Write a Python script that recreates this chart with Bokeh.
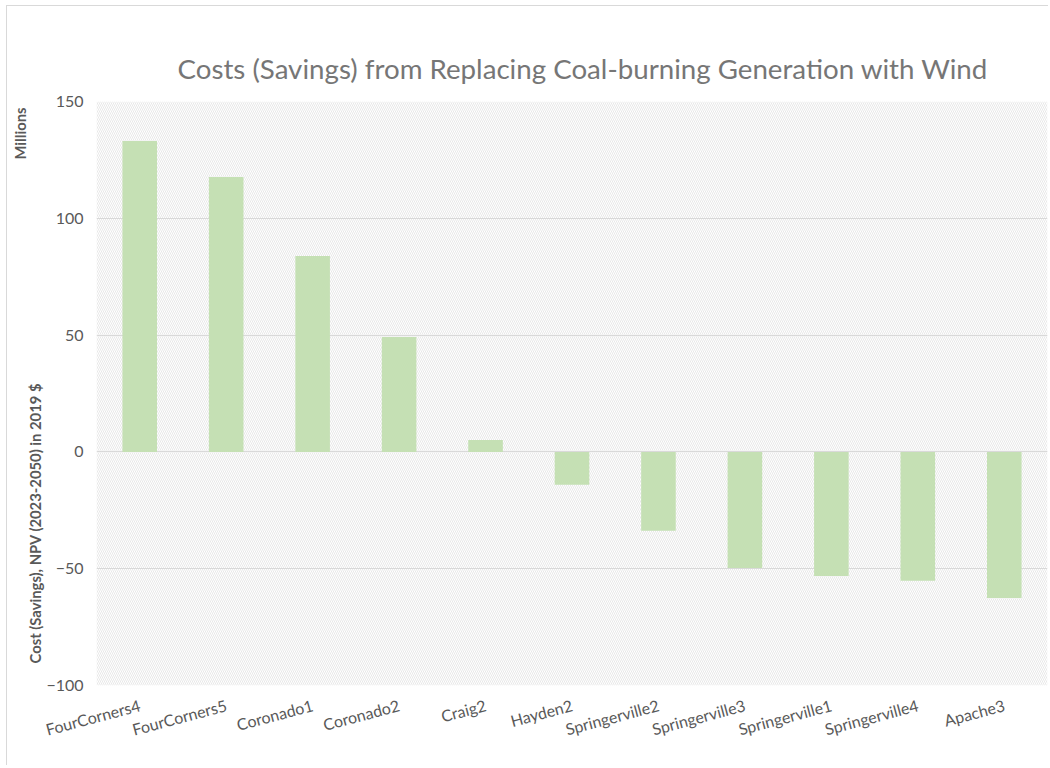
import math
from bokeh.plotting import figure
from bokeh.models import FactorRange, Range1d, FixedTicker, BoxAnnotation, Title
from bokeh.embed import file_html
from bokeh.resources import INLINE

plants = ["FourCorners4", "FourCorners5", "Coronado1", "Coronado2", "Craig2", "Hayden2",
          "Springerville2", "Springerville3", "Springerville1", "Springerville4", "Apache3"]
costs = [133.1, 117.7, 83.9, 49.2, 5.1, -14.1, -33.8, -49.7, -53.1, -55.2, -62.5]
y_ticks = [-100, -50, 0, 50, 100, 150]

FONT = "Lato"
TXT = "#595959"

p = figure(x_range=FactorRange(factors=plants, range_padding=0),
           y_range=Range1d(-100, 150),
           width=1042, height=760,
           output_backend="svg", toolbar_location=None,
           min_border_left=89, min_border_right=2,
           min_border_top=95, min_border_bottom=81)
p.styles = {"margin-left": "6px", "margin-top": "5px",
            "border-top": "1px solid #d9d9d9", "border-left": "1px solid #d9d9d9"}
p.outline_line_color = None

p.title.text = "Costs (Savings) from Replacing Coal-burning Generation with Wind"
p.title.text_font = FONT
p.title.text_font_size = "27.7px"
p.title.text_font_style = "normal"
p.title.text_color = "#767676"
p.title.align = "left"
p.title.offset = 81
p.title.standoff = 34

hatch = BoxAnnotation(fill_alpha=0, line_alpha=0, hatch_pattern="\\", hatch_color="#e2e2e2",
                      hatch_scale=4, hatch_weight=0.8, level="image")
p.add_layout(hatch)

p.vbar(x=plants, top=costs, bottom=0, width=0.4, fill_color="#c5e0b4", line_color=None)

p.xgrid.grid_line_color = None
p.ygrid.grid_line_color = "#d9d9d9"

p.yaxis.ticker = FixedTicker(ticks=y_ticks)
p.yaxis.axis_line_color = None
p.yaxis.major_tick_line_color = None
p.yaxis.minor_tick_line_color = None
p.yaxis.major_tick_out = 0
p.yaxis.major_tick_in = 0
p.yaxis.axis_label_standoff = 0
p.yaxis.major_label_text_font = FONT
p.yaxis.major_label_text_font_size = "16px"
p.yaxis.major_label_text_color = TXT
p.yaxis.major_label_standoff = 13

p.xaxis.axis_line_color = None
p.xaxis.major_tick_line_color = None
p.xaxis.minor_tick_line_color = None
p.xaxis.major_label_text_font = FONT
p.xaxis.major_label_text_font_size = "16px"
p.xaxis.major_label_text_color = TXT
p.xaxis.major_label_orientation = math.radians(15)
p.xaxis.major_label_standoff = 13

ylab = Title(text="Cost (Savings), NPV (2023-2050) in 2019 $", align="left", offset=22,
             standoff=0, text_font=FONT, text_font_size="14.8px", text_font_style="bold",
             text_color=TXT)
p.add_layout(ylab, "left")
units = Title(text="Millions", align="right", offset=6, standoff=-10, text_font=FONT,
              text_font_size="14.8px", text_font_style="bold", text_color=TXT)
p.add_layout(units, "left")

open("out.html", "w").write(file_html(p, INLINE))
